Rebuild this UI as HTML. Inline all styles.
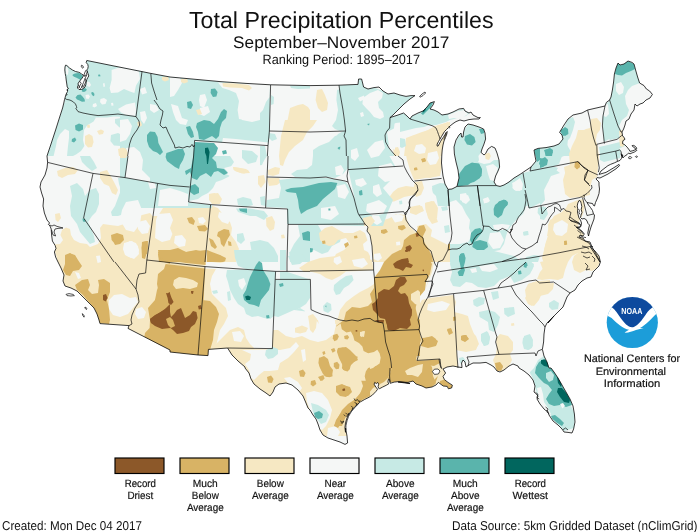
<!DOCTYPE html>
<html lang="en"><head><meta charset="utf-8"><title>Total Precipitation Percentiles</title>
<style>
html,body{margin:0;padding:0;background:#fff;}
body{width:700px;height:532px;overflow:hidden;position:relative;font-family:"Liberation Sans",sans-serif;}
svg{position:absolute;left:0;top:0;display:block;will-change:transform;}
text{text-rendering:geometricPrecision;}
text{font-family:"Liberation Sans",sans-serif;fill:#111;}
</style></head><body>
<svg width="700" height="532" viewBox="0 0 700 532">
<rect width="700" height="532" fill="#fff"/>

<defs><clipPath id="us"><path d="M100,323.6 99,320 97,314 94,308 90,304 87,301 83,297 77,291 71,288 65,286 63,281 64,275 61,268 58,262 58,262 55.6,257 54.4,252 56,248.4 55.2,245.6 52.4,241 51.6,235 51.2,229 50,226 48.4,224.4 49.6,223 47,220 44.4,213 43,206 43.6,199 41.6,193 40,187 41,182 45,175 47,168 47.6,162.4 47,156 47,156 51,144 55.6,130 60,116 62.6,108 63.8,103 64.5,99.5 65,98 65.5,96 66.2,94 67.5,91.5 67,89.5 68.5,88.5 67.2,87 66.8,84 66.2,80 65.8,76.5 65.2,73.5 64.8,70 65,67 65.5,65.2 66.8,65.5 69.5,68 72.5,70 75.5,71.5 78.5,72.2 80.5,73 82,74.5 83.5,75 83,76.8 81.8,78.5 80.5,80 79,82 77.8,84 78.5,85 77.5,86.5 77.5,88 79,89.5 81.2,89.5 83.5,88.5 85,87 85.8,84.5 86.2,82 86.8,79.5 87.8,77.5 88.8,76 88,73.5 87.2,71.5 86.8,70 87.8,68.5 88.2,66.5 87.8,64.5 86.2,62.5 86.8,60.5 114,66 142,71.6 150.8,73.4 170,77 194,79.2 220,81.6 246,83.4 270.6,84.8 310,85.6 339,85.2 358,84.4 358.6,79 361.6,79 363.6,87 368,89 374,87.6 379,87 383,91 388,94 394,93 400,95 406,96.4 411,95.6 415,95.6 410,99 404,104 398,110 393,115 390,117.6 398,115 403.6,113 403.6,113 407,116 410,119 412,116 418,113 423,111 427,107 430,103 434.4,101.6 433,105 430,109 434,110 438,112 442,115 448,114 453,112 459,109 463.6,108.4 465,111 469,113 471,112 473,115 478,117.6 480.4,117.6 479,119 474,119 469,119.6 464,121 460,120 456,121.6 453,123.6 450,126 448.5,127.5 446.5,129.5 444.5,131.5 443,134 441.5,136.5 440,139 438.5,141.5 437.2,144 437,145.8 438,146.2 439.2,144 440.5,141.5 442,139 443.5,137 445,134.5 446.2,132.5 447.2,131.5 446.8,134 445.5,137.5 444,141 443,145 442.2,150 441.8,155 441.5,163 442,168 443,176 445,184 448,189.4 452,189 457,186.4 459,178 458,170 456,162 454.4,154 454,147 456,140 459,135 461,133 461.6,137 463,137 463.6,132 465,127 468,124 473,125 479,127 483.6,129 485,133 485.6,139 484,144 482,149 481,152.4 484,155 485.6,153.6 488,149 491.6,146.4 495,148 497,153 499,160 499.6,167 498,171 495.6,176 494,182 496.4,185.6 500,186.4 504,185 509,182 514,178 520,174.4 525,171 531,167 536,161 535,156 534,150 538,148.4 546,147.6 554,146 559,144 563,139 562,135 559.6,132.4 561,130 564,125 568,119 573,115 582,113 587.6,110 605,106 606.4,102.4 609.6,100 611,97 612.4,90 613.6,82 614.4,74 616,68 618,63 620,65 624,64 628,61 632,62.4 634,64 635.6,70 637.6,77 639.6,83 644,85.6 646.4,89 649.6,91 652.4,94.4 650,98 646,100 643,103 640,104 637,106 635,104 634,110 631,114 629,119 626,121 625,125 623.6,129 622,132 622.4,135 622.1,135 624.3,137.9 625,139.3 622.9,140.7 622.5,143.6 624.6,144.6 627.1,147.1 629.3,150 630,151.4 632.9,150.7 635.7,149.6 636.8,148.2 635.4,146.4 633.6,145.4 632.1,145.6 633.2,147 634.9,148 635.9,149.4 636.8,150.4 634.3,152.1 632.1,152.9 630,153.9 628.6,153 627.1,154.6 624.3,156.4 622.9,157.9 622.1,155 621.4,154.6 621.8,157.1 621.4,158.6 620,160.4 617.5,161.4 614.3,162.9 610.7,164.3 607.9,165.7 605,167.9 601,171 599,174.4 606,172.4 614,167.6 619,164.4 619.6,165.6 616,168.8 608,174 600,178 597,177.6 596,179 599,182 599,185 599.5,189 599,193.5 597.5,198 595.5,202.5 594.5,206 593.5,205.5 592.5,203.5 589.5,203 587,202.5 588.5,205 590.5,207.5 592.5,210.5 593.5,214 594.5,215 594,219 592.5,223 591,227 589.5,232 588.5,236 587.8,233 588.5,229 589.5,225 588,223.5 587,221 585.5,219 584,218.5 582,219 580.5,217.5 581,215 582,212.5 581.2,209.5 581.8,206.5 581.2,203.5 580.5,201 579,200.5 577.8,203 577.2,206 577.8,209 577.5,212 578.2,215 579,218 580.5,220 581.5,223 581.2,225 580.5,227 576.5,227.5 579,229.5 581,231 582.5,233 584,234.5 583,236 580,235 579,237 582,238 583,238 585,241 590,242 592,247 595,252 598,258 600,262 590.4,247 595,251 599,256 600.4,262 599,266 596,269 593,272 591,277 587,278 582,281 578,285 575,290 570,293 567,297 565,302 563,307 560,310 556,314 552,318 548,323 554,316 550,320 547,323 545,327 544,334 543.6,342 542.4,349.4 544,356 547,362 549,368 551,368 554,372 558,378 562,385 566,392 570,399 573,406 574.4,414 575,422 573.6,429 572,433 568,432.4 564,432 562,429 558,425 553,421 549,415 547.6,411 545.6,410.4 544,409 540,404 537,399 538,396 536.4,394 534,392 535,386 533,380 529,375 524,371 519,368 518,366 513,364 509,366 504,370 500,372 497,371 494,367 491,365 486,362.4 480,363 473,363 469,365 466,367 465,362 463,360 461.6,363 462,367.6 458,367 453,366 447,367 443,369 445.6,373 443,376.4 444.4,379.6 448,382.4 452.4,385.2 451.6,388 448.4,388.8 447.2,386.4 443.2,386 440,383.6 438.4,382.4 436,385 432,387 426,388 422,386 416,384 413,381 408,382.4 400,382 398,382 410,383.6 404.5,382.4 398.8,381.6 394.2,382.1 390.2,383.3 389.6,379.6 388.5,379 387.9,381.9 388.7,383.9 386.2,385.3 382.7,387 379.3,388.8 378.7,388.2 378.1,386.5 378.7,384.2 377.6,382.4 376.4,383.6 374.7,382.4 374.1,384.2 375.8,387 377.6,389.3 375.8,391.6 372.4,395.1 369,397.3 364.4,399.6 360.4,401.9 356.9,404.8 353.5,408.2 350.6,411.7 348.3,415.1 346.6,419.1 345.5,423.1 344.9,427.7 345.5,432.3 345.6,428 347,436 347.6,443 345,444.4 340,442 334,440 328,438 323,435 320,430 318,424 316,419 313,415 310,410 308,408 306,403 303,396 298,390 292,385 286,383 279,384 275,387 273,392 270,396 266,393 260,389 254,384 251,379 249,373 245,368 245,367 238,361 232,355 227.6,348 208.4,349.4 208,355.6 198,355 170,352 170,350 128,328.4 129,325.6 100,323.6Z"/></clipPath><clipPath id="lc"><circle cx="632.3" cy="322.5" r="25.6"/></clipPath></defs>
<path d="M100,323.6 99,320 97,314 94,308 90,304 87,301 83,297 77,291 71,288 65,286 63,281 64,275 61,268 58,262 58,262 55.6,257 54.4,252 56,248.4 55.2,245.6 52.4,241 51.6,235 51.2,229 50,226 48.4,224.4 49.6,223 47,220 44.4,213 43,206 43.6,199 41.6,193 40,187 41,182 45,175 47,168 47.6,162.4 47,156 47,156 51,144 55.6,130 60,116 62.6,108 63.8,103 64.5,99.5 65,98 65.5,96 66.2,94 67.5,91.5 67,89.5 68.5,88.5 67.2,87 66.8,84 66.2,80 65.8,76.5 65.2,73.5 64.8,70 65,67 65.5,65.2 66.8,65.5 69.5,68 72.5,70 75.5,71.5 78.5,72.2 80.5,73 82,74.5 83.5,75 83,76.8 81.8,78.5 80.5,80 79,82 77.8,84 78.5,85 77.5,86.5 77.5,88 79,89.5 81.2,89.5 83.5,88.5 85,87 85.8,84.5 86.2,82 86.8,79.5 87.8,77.5 88.8,76 88,73.5 87.2,71.5 86.8,70 87.8,68.5 88.2,66.5 87.8,64.5 86.2,62.5 86.8,60.5 114,66 142,71.6 150.8,73.4 170,77 194,79.2 220,81.6 246,83.4 270.6,84.8 310,85.6 339,85.2 358,84.4 358.6,79 361.6,79 363.6,87 368,89 374,87.6 379,87 383,91 388,94 394,93 400,95 406,96.4 411,95.6 415,95.6 410,99 404,104 398,110 393,115 390,117.6 398,115 403.6,113 403.6,113 407,116 410,119 412,116 418,113 423,111 427,107 430,103 434.4,101.6 433,105 430,109 434,110 438,112 442,115 448,114 453,112 459,109 463.6,108.4 465,111 469,113 471,112 473,115 478,117.6 480.4,117.6 479,119 474,119 469,119.6 464,121 460,120 456,121.6 453,123.6 450,126 448.5,127.5 446.5,129.5 444.5,131.5 443,134 441.5,136.5 440,139 438.5,141.5 437.2,144 437,145.8 438,146.2 439.2,144 440.5,141.5 442,139 443.5,137 445,134.5 446.2,132.5 447.2,131.5 446.8,134 445.5,137.5 444,141 443,145 442.2,150 441.8,155 441.5,163 442,168 443,176 445,184 448,189.4 452,189 457,186.4 459,178 458,170 456,162 454.4,154 454,147 456,140 459,135 461,133 461.6,137 463,137 463.6,132 465,127 468,124 473,125 479,127 483.6,129 485,133 485.6,139 484,144 482,149 481,152.4 484,155 485.6,153.6 488,149 491.6,146.4 495,148 497,153 499,160 499.6,167 498,171 495.6,176 494,182 496.4,185.6 500,186.4 504,185 509,182 514,178 520,174.4 525,171 531,167 536,161 535,156 534,150 538,148.4 546,147.6 554,146 559,144 563,139 562,135 559.6,132.4 561,130 564,125 568,119 573,115 582,113 587.6,110 605,106 606.4,102.4 609.6,100 611,97 612.4,90 613.6,82 614.4,74 616,68 618,63 620,65 624,64 628,61 632,62.4 634,64 635.6,70 637.6,77 639.6,83 644,85.6 646.4,89 649.6,91 652.4,94.4 650,98 646,100 643,103 640,104 637,106 635,104 634,110 631,114 629,119 626,121 625,125 623.6,129 622,132 622.4,135 622.1,135 624.3,137.9 625,139.3 622.9,140.7 622.5,143.6 624.6,144.6 627.1,147.1 629.3,150 630,151.4 632.9,150.7 635.7,149.6 636.8,148.2 635.4,146.4 633.6,145.4 632.1,145.6 633.2,147 634.9,148 635.9,149.4 636.8,150.4 634.3,152.1 632.1,152.9 630,153.9 628.6,153 627.1,154.6 624.3,156.4 622.9,157.9 622.1,155 621.4,154.6 621.8,157.1 621.4,158.6 620,160.4 617.5,161.4 614.3,162.9 610.7,164.3 607.9,165.7 605,167.9 601,171 599,174.4 606,172.4 614,167.6 619,164.4 619.6,165.6 616,168.8 608,174 600,178 597,177.6 596,179 599,182 599,185 599.5,189 599,193.5 597.5,198 595.5,202.5 594.5,206 593.5,205.5 592.5,203.5 589.5,203 587,202.5 588.5,205 590.5,207.5 592.5,210.5 593.5,214 594.5,215 594,219 592.5,223 591,227 589.5,232 588.5,236 587.8,233 588.5,229 589.5,225 588,223.5 587,221 585.5,219 584,218.5 582,219 580.5,217.5 581,215 582,212.5 581.2,209.5 581.8,206.5 581.2,203.5 580.5,201 579,200.5 577.8,203 577.2,206 577.8,209 577.5,212 578.2,215 579,218 580.5,220 581.5,223 581.2,225 580.5,227 576.5,227.5 579,229.5 581,231 582.5,233 584,234.5 583,236 580,235 579,237 582,238 583,238 585,241 590,242 592,247 595,252 598,258 600,262 590.4,247 595,251 599,256 600.4,262 599,266 596,269 593,272 591,277 587,278 582,281 578,285 575,290 570,293 567,297 565,302 563,307 560,310 556,314 552,318 548,323 554,316 550,320 547,323 545,327 544,334 543.6,342 542.4,349.4 544,356 547,362 549,368 551,368 554,372 558,378 562,385 566,392 570,399 573,406 574.4,414 575,422 573.6,429 572,433 568,432.4 564,432 562,429 558,425 553,421 549,415 547.6,411 545.6,410.4 544,409 540,404 537,399 538,396 536.4,394 534,392 535,386 533,380 529,375 524,371 519,368 518,366 513,364 509,366 504,370 500,372 497,371 494,367 491,365 486,362.4 480,363 473,363 469,365 466,367 465,362 463,360 461.6,363 462,367.6 458,367 453,366 447,367 443,369 445.6,373 443,376.4 444.4,379.6 448,382.4 452.4,385.2 451.6,388 448.4,388.8 447.2,386.4 443.2,386 440,383.6 438.4,382.4 436,385 432,387 426,388 422,386 416,384 413,381 408,382.4 400,382 398,382 410,383.6 404.5,382.4 398.8,381.6 394.2,382.1 390.2,383.3 389.6,379.6 388.5,379 387.9,381.9 388.7,383.9 386.2,385.3 382.7,387 379.3,388.8 378.7,388.2 378.1,386.5 378.7,384.2 377.6,382.4 376.4,383.6 374.7,382.4 374.1,384.2 375.8,387 377.6,389.3 375.8,391.6 372.4,395.1 369,397.3 364.4,399.6 360.4,401.9 356.9,404.8 353.5,408.2 350.6,411.7 348.3,415.1 346.6,419.1 345.5,423.1 344.9,427.7 345.5,432.3 345.6,428 347,436 347.6,443 345,444.4 340,442 334,440 328,438 323,435 320,430 318,424 316,419 313,415 310,410 308,408 306,403 303,396 298,390 292,385 286,383 279,384 275,387 273,392 270,396 266,393 260,389 254,384 251,379 249,373 245,368 245,367 238,361 232,355 227.6,348 208.4,349.4 208,355.6 198,355 170,352 170,350 128,328.4 129,325.6 100,323.6Z" fill="#f5f7f6"/>
<g clip-path="url(#us)">
<path d="M64,62 88,59 170,76 170,156 148,156 145,144 142,136 139,130 139.6,124 136,117 124,117 114,116.4 107,117.6 96,117.6 90,116 83,114 77,111 73,104.4 69,102 64.4,102.4 66,93 65.2,80Z" fill="#c7eae5"/>
<path d="M64.4,102.4 69,102 73,104.4 77,111 83,114 90,116 96,117.6 93.6,121.6 87,125.6 84,130 83,140 84.4,146 81,151 76,154.4 73,156 67,156 68,146 69,138 69,131 65,129 60,134 57,140 56,146 53.6,156 46,156 55.6,130 62.6,108Z" fill="#c7eae5"/>
<path d="M115,119 124,117.6 131,119 133,126 130,130 124,130 119,127 115,123Z" fill="#c7eae5"/>
<path d="M111,135 118,133 124,136 125,142 121,146 114,145.6 110.4,141Z" fill="#c7eae5"/>
<path d="M170,76 190,78.4 218,81.6 270,85 269.6,130 268.4,145.6 230,142.4 194.6,140 193.6,156 170,156Z" fill="#c7eae5"/>
<path d="M290,108 298,105 303,104 308,107 310,110 310,122 287,122 288,118Z" fill="#f6e8c3"/>
<path d="M271,95 274,97 273.6,104 271,105Z" fill="#c7eae5"/>
<path d="M290,85.6 310,86 310,88.4 298,89 291,88Z" fill="#c7eae5"/>
<path d="M339,85.2 358,84.4 358.6,79 361.6,79 363.6,87 374,87.6 383,91 394,93 406,96.4 415,95.6 404,104 390,117.6 389.6,128 385,135 385.6,142 390,150 396,156 332,156 331,150 336,146 335,138 338,134 345,130 343,110 340,93Z" fill="#c7eae5"/>
<path d="M337,90 340,89 343,110 345,130 340,131 335,129 332,126 336,120 338,110 336.4,100Z" fill="#c7eae5"/>
<path d="M406,138 414,135 422,132 432,129 438,125 446,123 450,122 450,156 404,156 405,148Z" fill="#f6e8c3"/>
<path d="M393,148 398,147 400,152 399,156 394,156Z" fill="#f6e8c3"/>
<path d="M410,119 418,116 422,110 433.6,101.6 431,108 440,113 450,113.6 450,120 442,120 434,122 426,123 418,121Z" fill="#c7eae5"/>
<path d="M390,118 398,115 404,113.6 410,119.6 404,122 396,123 390,125Z" fill="#c7eae5"/>
<path d="M80,156 90,156 94,162 97,168 92,171 87,167 82,162Z" fill="#c7eae5"/>
<path d="M70,186 77,183 83,189 85,196 90,190 96,188 99,194 99,204 96,212 92,216 88,222 91,228 94,236 95,242 90,244 85,238 80,232 77,224 71,216 70,206 72,196Z" fill="#c7eae5"/>
<path d="M118,178 125,177.6 157.6,183.4 170,185.4 170,156 142,156 141,172 150,176 154,188 158,196 154,202 144,201 136,203 130,208 124,214 118,216 112,216 111,212 115,206 118,198 121,190 119,184Z" fill="#c7eae5"/>
<path d="M158,184 170,185.4 170,196 163,194 158,196Z" fill="#c7eae5"/>
<path d="M53,244.4 60,244 63,240 60.4,235 62,230 66,227.4 70,229 71,235 74,240 80,243 87,244 90,247 98,244 101,238 100,228 103,224 110,225 118,226 124,224 134,218 142,215 150,213 152.4,216 158,216 163,208 168,206 170,205 170,262 58,262Z" fill="#f6e8c3"/>
<path d="M170,156 230,156 234,162 230,168 226,174 230,176 222,180 216,182 213,188 208,193 202,196 198,199 189,201 189.6,187 170,185.4Z" fill="#c7eae5"/>
<path d="M244,156 258,156 264,160 262,165 254,166 247,162Z" fill="#c7eae5"/>
<path d="M237,199 243,197 251,199 253,205 246,207 238,205Z" fill="#c7eae5"/>
<path d="M260,197 265,196 265.6,206 261,205Z" fill="#c7eae5"/>
<path d="M288.4,225 310,225 310,262 290,262 289,250 292,242 290,236Z" fill="#c7eae5"/>
<path d="M236,208.4 250,208.4 264,211 268,216 264,220 256,216 250,216 244,214 238,212Z" fill="#c7eae5"/>
<path d="M237,234 243,233 245,240 241,244 237,241Z" fill="#c7eae5"/>
<path d="M250,242 260,240 268,242 274,248 278,256 278,262 256,262 252,254Z" fill="#c7eae5"/>
<path d="M238,254 243,255 242,262 237,262Z" fill="#c7eae5"/>
<path d="M170,205 178,206 188,203 198,205 210,205 218,208 224,216 230,222 232,228 231,235 236,242 239,249 236,256 236,262 170,262Z" fill="#f6e8c3"/>
<path d="M399,201 402,200.4 402.4,204 399.6,204.4Z" fill="#c7eae5"/>
<path d="M388,199 393,192 398,188 406,186 414,187 417,191 414,195 409,196 404,197 400,199 394,201.6 389,201.6Z" fill="#f6e8c3"/>
<path d="M413,162 422,156 440,156 441,168 438,176 430,178 422,177 416,173Z" fill="#f6e8c3"/>
<path d="M432,186 440,183 448,184 450,193 450,204 444,202 438,198 433,193Z" fill="#c7eae5"/>
<path d="M425,203 432,201 437,206 435,214 438,222 432,224 428,218 426,210Z" fill="#f6e8c3"/>
<path d="M414,207 422,206 424,211 418,213 413,211Z" fill="#f6e8c3"/>
<path d="M310,225 318,225 322,232 328,236 336,232 342,234 340,242 332,246 328,252 322,254 314,250 310,252Z" fill="#c7eae5"/>
<path d="M319,233 325,228 332,226 337,229 344,233 353,233 360,230 365,233 368,242 367,250 370,256 370,262 332,262 336,254 344,250 350,244 346,238 338,240 334,245 329,246 324,244 320,240Z" fill="#f6e8c3"/>
<path d="M362.4,220 370,216 376,216 384,220 390,218 396,214 405.6,215 409,226 419,235 423,246 433,262 373,262 372,246 370,235 367,231 368,227Z" fill="#f6e8c3"/>
<path d="M422,240 430,236 438,240 446,244 450,246 450,262 433,262 428,252 423,246Z" fill="#f6e8c3"/>
<path d="M450,189 457,187 477.4,185.6 496.4,185 505,184 523,173 526,192 527,204 523,214 517,219 512,225 508,230 506,236 504,244 500,250 490,252 480,256 472,262 450,262Z" fill="#c7eae5"/>
<path d="M523,173 530,171 554,166.4 558,168 555,173 550,175 548,182 544,186 543,194 544,201 538,204 529,208.4 527,204 526,192Z" fill="#c7eae5"/>
<path d="M530,171 538,156 562,156 559,164 554,166.4Z" fill="#c7eae5"/>
<path d="M564,167 578,161.6 588,170 584.4,180 590,186 590,195 580,197 570,198 565,194 564,186 566,178Z" fill="#f6e8c3"/>
<path d="M538,208 544,206 545,214 540,216 537.6,213Z" fill="#c7eae5"/>
<path d="M523,232 528,231 528.4,235 524,235.6Z" fill="#c7eae5"/>
<path d="M550,220 558,216 565,209 572,214 578,208 580,216 578,226 586,236 590,240 590,244.4 570,248.4 550,252.6 544,250 546,242 549,232 548,225Z" fill="#f6e8c3"/>
<path d="M526,257 534,255 540,256 538,262 524,262Z" fill="#c7eae5"/>
<path d="M546,242 550,236 548,230 580,230 584,238 589,242 590.4,248 595,251 599,256 600,262 596,260 588,260 582,258 578,253 572,256 568,262 565,270 563,278 558,280 550,279 542,280 537,279 540,272 545,266 542,258 544,250Z" fill="#f6e8c3"/>
<path d="M528,284 537,281 541,284 554,283 553,289 548,294 540,296 536,302 532,306 528,304 525,298 529,292Z" fill="#f6e8c3"/>
<path d="M549,303 554,300 559,303 558,309 552,310 549,307Z" fill="#c7eae5"/>
<path d="M520,258 528,260 534,264 532,270 526,276 520,278Z" fill="#c7eae5"/>
<path d="M523,232 528,231 528.4,235 523.6,235.6Z" fill="#c7eae5"/>
<path d="M578,253 589,250 599,256 600,262 597,268 592,271 586,270 580,273 574,270 572,262 574,256Z" fill="#f6e8c3"/>
<path d="M422,300 430,298 453,295 456,302 454,312 462,314 468,316 470,324 474,334 478,344 476,350 466,352 456,350 455,356 416,356 418,340 415,326 416,310Z" fill="#f6e8c3"/>
<path d="M422,250 436,250 434,262 432,272 429,280 425,290 430,274 432,264 428,256Z" fill="#f6e8c3"/>
<path d="M451,256 458,252 470,250 490,250 506,254 514,256 522,262 518,270 510,276 500,280 494,286 486,288 478,287 472,283 466,282 460,287 453,286 450,280 452,272 450,264Z" fill="#c7eae5"/>
<path d="M510,276 522,262 530,260 534,266 530,274 522,280 514,283Z" fill="#c7eae5"/>
<path d="M473,300 479,297 485,298 484,304 477,307 473.6,305Z" fill="#c7eae5"/>
<path d="M491,292 498,291 499,298 493,300Z" fill="#c7eae5"/>
<path d="M479,312 488,310 495,312 500,317 498,325 494,332 489,330 488,322 483,319 479.6,317Z" fill="#c7eae5"/>
<path d="M504,308 514,307 515,314 508,317 504.4,314Z" fill="#c7eae5"/>
<path d="M481,334 487,331 490,337 489,344 484,346 481,341Z" fill="#c7eae5"/>
<path d="M524,336 530,334 533,340 532,348 527,350 523.6,344Z" fill="#c7eae5"/>
<path d="M528,284 538,281 550,280 550,290 542,293 539,300 534,306 529,304 526,297 525,290Z" fill="#f6e8c3"/>
<path d="M540,262 550,260 550,270 543,270Z" fill="#f6e8c3"/>
<path d="M496,338 504,336 510,340 513,346 510,352 502,353 497,348Z" fill="#f6e8c3"/>
<path d="M230,348 272,349 273,330 370,330 370,436 230,436Z" fill="#f6e8c3"/>
<path d="M330,320 454,320 458,367 450,380 330,426Z" fill="#f6e8c3"/>
<path d="M528,369 538,354 546,356 575,414 574,428 564,431 548,412 537,394 533.6,380Z" fill="#c7eae5"/>
<path d="M496,338 500,334 508,336 513,342 513,350 510,354 512,360 509,366 502,372 497,370 495,366 493,360 496,354 497,346Z" fill="#f6e8c3"/>
<path d="M460,332 470,330 476,336 479,344 476,349 468,348 462,344 460,340Z" fill="#f6e8c3"/>
<path d="M482,334 488,332 490,338 488,345 484,346 481.6,340Z" fill="#c7eae5"/>
<path d="M523,338 528,335 532,338 533,346 529,350 524,349 522.4,343Z" fill="#c7eae5"/>
<path d="M120,100 260,100 260,145.6 194.4,140.6 188.4,202.4 212,205 212,208 120,208Z" fill="#c7eae5"/>
<path d="M285,120 317,120 313,126 307,132 303,140 295,146 289,152 285,160 283,166 280,165 279,156 280,146 281,136 283,128Z" fill="#f6e8c3"/>
<path d="M268,170 275,167 280,168 279,174 273,176 268,175Z" fill="#f6e8c3"/>
<path d="M267,178 279,178 281,182 277,185 269,186Z" fill="#f6e8c3"/>
<path d="M313,150 319,146 329,142 335,136 343,134 347,140 348,168 343,174 335,178 327,177 315,178 305,178 295,177 291,174 297,170 307,169 312,165 313,156Z" fill="#c7eae5"/>
<path d="M269,133 275,134 277,139 272,141 269,138Z" fill="#c7eae5"/>
<path d="M255,146 265,146 267,156 263,162 255,163Z" fill="#c7eae5"/>
<path d="M279,180 295,178 327,178 339,180 346,182 351,190 355,200 358,212 359,226 287,224 287,208 266,207 267,200 279,198 281,188Z" fill="#c7eae5"/>
<path d="M343,120 395,120 393,136 386,150 395,166 391,180 383,188 393,200 387,214 383,226 359,226 355,200 348,168 347,140Z" fill="#c7eae5"/>
<path d="M406,140 412,136 420,134 428,130 435,126 440,125 448,122 450,125.6 447,130 443,136 440,138 438,143 440,152 441,160 441.6,168 440,176 430,177 420,179 414,180 410,170 407,160 405,150Z" fill="#f6e8c3"/>
<path d="M415,182 422,181 424,188 421,195 416,197 413,190Z" fill="#f6e8c3"/>
<path d="M400,114 404,113 410,119 418,120 426,122 432,124 424,127 416,128 408,130 400,132Z" fill="#c7eae5"/>
<path d="M400,138 405,139 406,146 402,148 400,147Z" fill="#c7eae5"/>
<path d="M410,119 412,116 423,111 430,109 442,115 453,112 463.6,108.4 469,113 471,112 466,116 460,117 454,119 450,120 446,122 436,125 430,125 420,122Z" fill="#c7eae5"/>
<path d="M468,124 473,125 483.6,129 485.6,139 482,149 481,152.4 484,155 480,158 478,162 484,164 490,163 496,158 499,160 499.6,167 495.6,176 494,182 496.4,185.6 477.4,185.6 457,186.4 459,178 456,162 454,147 459,135 463.6,132Z" fill="#c7eae5"/>
<path d="M448,189.4 457,186.4 477.4,185.6 496.4,185.6 504,185 514,178 522.4,174 528,206 449,206Z" fill="#c7eae5"/>
<path d="M432,188 443,185 447.6,190 448,196 440,194 433,193Z" fill="#c7eae5"/>
<path d="M436,196 448,198 448.6,206 438,206Z" fill="#c7eae5"/>
<path d="M531,167 536,161 540,154 540,172 530,171.6Z" fill="#c7eae5"/>
<path d="M618,63 628,61 634,64 638,76 640,83 632,86 628,90 625,96 626,104 629,110 627,116 622,120 619,126 622,132 620,132 614,114 609.6,100 612.4,90 614,74Z" fill="#c7eae5"/>
<path d="M606,104 609.6,100.4 614,114 618,126 620,132 616,134 611,138 604,142 603,130 602.4,120 604,110Z" fill="#c7eae5"/>
<path d="M591,119 597,118 601,123 600,130 597,134 595,144 596,156 572,156 573,146 577,138 580,132 586,129 590,128Z" fill="#f6e8c3"/>
<path d="M568,119 573,117 575,122 573,130 570,138 565,143 560,144 562,138 560,132 564,127Z" fill="#c7eae5"/>
<path d="M535,149 546,147 556,146 560,144 566,143 570,150 571,156 534,156Z" fill="#c7eae5"/>
<path d="M599,147 608,145 620,142 624,140 625,146 616,150 608,152 600,153Z" fill="#c7eae5"/>
<path d="M578,130 592,130 597,144 599,156 598,168 597,177 592,180 590,188 588,194 583,198 578,196 570,190 564,188 563,180 566,170 570,164 569,154 572,146 576,138Z" fill="#f6e8c3"/>
<path d="M568,204 578,200 583,199 585,206 583,214 580,220 574,224 570,228 564,236 547,236 549,224 554,216 562,212 566,208Z" fill="#f6e8c3"/>
<path d="M540,148 552,146 560,142 562,136 560,130 568,130 568,138 567,150 564,156 559,158 550,160 540,163Z" fill="#c7eae5"/>
<path d="M540,169 548,168 556,170 560,173 551,176 548,182 544,190 545,200 540,206Z" fill="#c7eae5"/>
<path d="M600,150 616,147 621,150 620,158 612,160 604,162 600,160Z" fill="#c7eae5"/>
<path d="M605,130 620,130 619,138 610,140 606,136Z" fill="#c7eae5"/>
<path d="M540,208 546,207 548,214 544,220 540,219Z" fill="#c7eae5"/>
<path d="M50,260 170,260 170,346 50,346Z" fill="#f6e8c3"/>
<path d="M150,250 206,250 205,268.4 216,269 212,276 210,284 212,294 218,300 226,308 228,316 224,324 220,330 218,338 216,346 214,356 150,356Z" fill="#f6e8c3"/>
<path d="M214,346 222,338 230,330 238,327 244,330 246,338 250,344 254,348 254,356 210,356Z" fill="#f6e8c3"/>
<path d="M227,270 246,269.6 275.6,271.6 275.2,280 290,280 290,316 282,318 274,316 270,319 264,318 258,316 252,317 246,314 244,308 238,304 234,298 230,290 228,282 226,276Z" fill="#c7eae5"/>
<path d="M212,291 217,290 218,293 213.6,294Z" fill="#c7eae5"/>
<path d="M227,292 230,291 231,300 228,301Z" fill="#c7eae5"/>
<path d="M234,250 254,250 258,256 262,260 259,262 254,269 246,269 238,266 235,258Z" fill="#c7eae5"/>
<path d="M280,272 286,271.6 310,279.6 310,298 306,304 300,308 292,312 286,314 280,313Z" fill="#c7eae5"/>
<path d="M280,250 286,250 286,270 280,270Z" fill="#c7eae5"/>
<path d="M288,256 302,254 306,259 300,264 292,265Z" fill="#c7eae5"/>
<path d="M295,310 300,308 305,311 304,317 299,319 295,316Z" fill="#c7eae5"/>
<path d="M299,268 308,262 320,258 336,256 348,254 360,256 372,260 373.6,270 360,271 346,271.6 340,276 332,280 326,278 320,274 312,272 304,272Z" fill="#f6e8c3"/>
<path d="M280,346 292,343 300,338 308,340 314,336 310,326 312,318 318,320 320,330 328,328 334,324 338,318 340,310 346,302 354,296 360,292 368,288 374,284 375,278 420,274 420,356 280,356Z" fill="#f6e8c3"/>
<path d="M111.6,70 119,67.6 130,69 139,71.6 140,79 136,85.6 134.4,93 130,91.6 124,89 118,92.4 111,93 109.6,88 111.6,80Z" fill="#f5f7f6"/>
<path d="M118,109 126,104.4 135,102.4 136,110 135.4,116 126,115 121,112.4Z" fill="#f5f7f6"/>
<path d="M140,89 145,87 147,93 142,94.4Z" fill="#f5f7f6"/>
<path d="M218,82.4 270,84.6 269.6,97 266,102 263,110 256,117 248,120.4 239,119 237.6,110 239,101 236,93 229,90 222.4,88Z" fill="#f5f7f6"/>
<path d="M223,138 236,139 254,141 268.4,142.4 268,146 246,144.4 222,142.4Z" fill="#f5f7f6"/>
<path d="M170,77 180,78 182,83 178,90 174,96 170,97Z" fill="#f5f7f6"/>
<path d="M200,95 205,94 207,100 204,108 200,106 199,100Z" fill="#f5f7f6"/>
<path d="M363,98 370,93 378,90 383,93 382,98 378,102 379,108 383,112 384,117 380,119 374,117 370,112 366,108 362.4,104Z" fill="#f5f7f6"/>
<path d="M358,98 364,95.6 365,99 360,101.6Z" fill="#f5f7f6"/>
<path d="M360,113 363,112 364,116 361,117Z" fill="#f5f7f6"/>
<path d="M148,182 155,183 156,188 150,189Z" fill="#f5f7f6"/>
<path d="M124,244 130,241 136,243 139,250 137,256 131,258 125,255 123,249Z" fill="#f5f7f6"/>
<path d="M138,222 146,220 150,226 148,233 142,234 138,229Z" fill="#f5f7f6"/>
<path d="M288.4,225 298,225 300,236 294,244 290,252 288.4,252Z" fill="#f5f7f6"/>
<path d="M198,218 203,217 206,221 203,224 199,223Z" fill="#f5f7f6"/>
<path d="M175,236 182,235 186,240 185,246 179,247 174,243Z" fill="#f5f7f6"/>
<path d="M219,212 226,214 230,220 228,224 222,222 218,217Z" fill="#f5f7f6"/>
<path d="M363,244 368,240 370,246 368,252 364,250Z" fill="#f5f7f6"/>
<path d="M372,216 379,215.6 382,222 377,225 372.4,222Z" fill="#f5f7f6"/>
<path d="M391,216 398,214 404,216 402,221 395,222.4Z" fill="#f5f7f6"/>
<path d="M396,242 400,241.6 400.4,245 396.4,245.4Z" fill="#f5f7f6"/>
<path d="M374,254 380,253 382,258 378,261 373.6,259Z" fill="#f5f7f6"/>
<path d="M450,202 456,200 462,206 466,214 470,220 469,228 472,236 468,242 460,244 450,244Z" fill="#f5f7f6"/>
<path d="M462,197 468,195 470,200 466,204 462,202Z" fill="#f5f7f6"/>
<path d="M483,199 488,198 489,202 484,203.6Z" fill="#f5f7f6"/>
<path d="M512,183 520,180 522.4,186 520,191 514,190Z" fill="#f5f7f6"/>
<path d="M493,225 502,224 510,225 508,229 500,230.4 494,229Z" fill="#f5f7f6"/>
<path d="M490,233 500,232 504,240 500,248 493,249 488,242Z" fill="#f5f7f6"/>
<path d="M554,224 562,220 568,224 567,232 562,236 556,235 553,230Z" fill="#f5f7f6"/>
<path d="M428,304 442,301 450,304 446,310 434,312 427,310Z" fill="#f5f7f6"/>
<path d="M470,269 476,268 477,272 472,273Z" fill="#f5f7f6"/>
<path d="M479,266 494,264 498,269 490,272 482,271Z" fill="#f5f7f6"/>
<path d="M242,350 272,349.6 280,350 290,348 296,342 299,346 294,352 288,358 280,363 278,370 270,371 264,371 259,375 254,380 251,378 249,370 245,364 250,360 251,354Z" fill="#f5f7f6"/>
<path d="M284,378 290,377 298,382 302,388 300,391 294,387 288,383Z" fill="#f5f7f6"/>
<path d="M306,393 314,391 322,393 328,400 332,410 330,418 326,426 322,430 318,428 314,420 310,410 307,402Z" fill="#f5f7f6"/>
<path d="M301,350 305,349 306,360 303,362Z" fill="#f5f7f6"/>
<path d="M328,428 336,426 340,432 338,436 327,436Z" fill="#f5f7f6"/>
<path d="M232,332 240,331 244,336 241,342 234,341Z" fill="#f5f7f6"/>
<path d="M537,388 541,387 543,394 544,402 548,408 551,414 549,416 544,410 539,400Z" fill="#f5f7f6"/>
<path d="M536,349 543,349 544,356 538,360 534,368 529,373 520,366 526,360Z" fill="#f5f7f6"/>
<path d="M120,120 128,119 132,126 130,134 126,140 120,142Z" fill="#f5f7f6"/>
<path d="M140,112 145,111 147,118 144,124 141,120Z" fill="#f5f7f6"/>
<path d="M150,104 156,105 159,110 154,113 150,110Z" fill="#f5f7f6"/>
<path d="M171,104 178,106 180,112 182,118 188,120 186,125 180,124 176,120 173,112Z" fill="#f5f7f6"/>
<path d="M126,148 134,147 140,152 143,160 142,170 150,178 150,182 125,177.6 128,160Z" fill="#f5f7f6"/>
<path d="M238,110 248,106 260,104 260,120 252,122 242,120Z" fill="#f5f7f6"/>
<path d="M220,143 260,146 260,196 240,194 232,188 228,180 230,174 224,168 232,166 238,160 234,152 226,150Z" fill="#f5f7f6"/>
<path d="M160,190 170,188 180,191 188,194 188,206 158,206Z" fill="#f5f7f6"/>
<path d="M200,108 208,106 210,112 204,116 199,114Z" fill="#f5f7f6"/>
<path d="M335,167 341,165 344,170 342,175 336,175Z" fill="#f5f7f6"/>
<path d="M337,186 345,184 349,192 345,199 338,197Z" fill="#f5f7f6"/>
<path d="M321,208 335,206 339,214 331,220 321,218Z" fill="#f5f7f6"/>
<path d="M351,150 357,148 359,156 355,161 351,158Z" fill="#f5f7f6"/>
<path d="M367,150 375,142 383,140 385,148 379,156 371,158Z" fill="#f5f7f6"/>
<path d="M355,180 363,178 367,184 361,187 356,185Z" fill="#f5f7f6"/>
<path d="M373,186 379,184 382,194 377,197 373,193Z" fill="#f5f7f6"/>
<path d="M387,132 395,128 395,150 389,146Z" fill="#f5f7f6"/>
<path d="M367,204 379,200 387,206 383,214 373,216 366,211Z" fill="#f5f7f6"/>
<path d="M379,166 391,163 395,168 395,180 385,182 378,176Z" fill="#f5f7f6"/>
<path d="M416,145 422,144 426,148 425,153 419,154 414,151Z" fill="#f5f7f6"/>
<path d="M428,153 437,151 439,158 436,164 430,165 427,160Z" fill="#f5f7f6"/>
<path d="M448,115 458,111 464,110 468,114 462,118 454,118 449,119Z" fill="#f5f7f6"/>
<path d="M481,152.4 488,149 491.6,146.4 495,148 497,153 498.4,160 494,160 490,162 484,163 479,160 478.4,156Z" fill="#f5f7f6"/>
<path d="M486,166 493,164 498,168 496,175 494.4,181 490,180 488,174Z" fill="#f5f7f6"/>
<path d="M460,194 466,193 468,198 464,202 460,200Z" fill="#f5f7f6"/>
<path d="M483,199 488,197 490,201 486,203Z" fill="#f5f7f6"/>
<path d="M513,183 520,178 523,184 522,190 516,191 512.4,188Z" fill="#f5f7f6"/>
<path d="M616,84 621,82 624,87 623,93 619,95 616,91Z" fill="#f5f7f6"/>
<path d="M605,105 608,104 609,114 606,117 603.6,116 604,110Z" fill="#f5f7f6"/>
<path d="M124,243 132,241 138,246 139,254 134,259 127,256 123.6,250Z" fill="#f5f7f6"/>
<path d="M109,300 114,295 122,294 130,298 136,297 138,302 133,308 128,314 120,317 113,315 109,309Z" fill="#f5f7f6"/>
<path d="M136,309 142,307 146,312 144,318 138,319 135,314Z" fill="#f5f7f6"/>
<path d="M96,256 100,255.6 101,262 97.6,263Z" fill="#f5f7f6"/>
<path d="M75,272 79,273 81,278 78,279Z" fill="#f5f7f6"/>
<path d="M238,280 244,278 246,284 242,290 239,286Z" fill="#f5f7f6"/>
<path d="M334,258 340,256 342,262 337,265 333.6,262Z" fill="#f5f7f6"/>
<path d="M352,260 364,258 368,264 362,268 354,266Z" fill="#f5f7f6"/>
<path d="M294,326 302,324 306,329 304,334 297,334Z" fill="#f5f7f6"/>
<path d="M86.5,81.5 89.5,82 91,85 89.5,87 87.2,86Z" fill="#f5f7f6"/>
<path d="M85.5,95 88.5,94.5 90,96.5 88.5,99 86,98.5Z" fill="#f5f7f6"/>
<path d="M100.5,99 104,98 107,100 105.5,104 102,104.5 100,102Z" fill="#f5f7f6"/>
<path d="M93,104 96,103 97,106 94.5,107.5 92.5,106.5Z" fill="#f5f7f6"/>
<path d="M103,83.5 104.5,83 105,86.5 103.5,87Z" fill="#f5f7f6"/>
<path d="M111,103 113,102.8 113.5,105.5 111.5,105.8Z" fill="#f5f7f6"/>
<path d="M65.5,66 67.5,67.5 68.5,71 67.8,75 66.2,74 65.5,70Z" fill="#f5f7f6"/>
<path d="M85,136 89,134 92.4,136 93.6,142 92,147 88,147.6 85,144Z" fill="#f6e8c3"/>
<path d="M97,131 101,129.6 104,131 103,134 99,134.8Z" fill="#f6e8c3"/>
<path d="M87,125 89.6,124.4 90,127.6 87.6,128Z" fill="#f6e8c3"/>
<path d="M118,149 123,147.6 127,150 127.6,156 119,156Z" fill="#f6e8c3"/>
<path d="M137.6,122 140.4,121.6 142,125 139.6,127 137.6,125.6Z" fill="#f6e8c3"/>
<path d="M162,77 168,76.4 169,80 165,81.6 162,80Z" fill="#f6e8c3"/>
<path d="M181,79 187,78.4 188,82 184,83.6 181,82Z" fill="#f6e8c3"/>
<path d="M222.4,83 236,83.6 249,85 252,88 249,90.4 242,88 230,87.6 223,86.4Z" fill="#f6e8c3"/>
<path d="M317,90 322,89 325,95 328,103 327,110 322,112 318,108 315.6,100Z" fill="#f6e8c3"/>
<path d="M57,171 65,168 73,167 78,170 75,174 68,175 62,178 58,176Z" fill="#f6e8c3"/>
<path d="M100,172 107,170 110,175 114,182 118,190 116,195 112,193 109,186 104,184 100,178Z" fill="#f6e8c3"/>
<path d="M55,214 59.6,213 61,218 58,222 55.6,220Z" fill="#f6e8c3"/>
<path d="M233,167 240,168 246,169 249,172 244,173.6 238,172 233.6,170Z" fill="#f6e8c3"/>
<path d="M209,194 215,193 219,198 220,203 213,204 209,200Z" fill="#f6e8c3"/>
<path d="M258,176 264,175 265.6,182 261,188 258,184Z" fill="#f6e8c3"/>
<path d="M266,218 272,216 275,222 274,229 270,231 266.4,226Z" fill="#f6e8c3"/>
<path d="M281,235 284,234.4 285,238 281.6,238.4Z" fill="#f6e8c3"/>
<path d="M511,323.6 514,323 514.4,325.6 511.4,326Z" fill="#f6e8c3"/>
<path d="M266,350 273,347 278,349 278,354 273,358 268,359 265,355Z" fill="#c7eae5"/>
<path d="M311,403 318,405 326,410 329,415 326,422 321,424 317,419 313,412Z" fill="#c7eae5"/>
<path d="M459,358 463,357 466,361 464,365 460,363Z" fill="#c7eae5"/>
<path d="M242,150 252,151 258,156 256,162 248,164 242,158Z" fill="#c7eae5"/>
<path d="M196,110 200,109 202,114 198,115Z" fill="#f6e8c3"/>
<path d="M120,149 125,148 128,153 126,158 120,158Z" fill="#f6e8c3"/>
<path d="M233,167 240,168 248,170 250,173 242,173.6 235,171Z" fill="#f6e8c3"/>
<path d="M210,194 218,193 222,199 220,204 212,204 209,199Z" fill="#f6e8c3"/>
<path d="M137.6,122 141,121.6 141.6,126 138.4,126.4Z" fill="#f6e8c3"/>
<path d="M425,203 434,201 438,208 437,218 432,222 428,216 425.6,210Z" fill="#f6e8c3"/>
<path d="M410,207 420,205 423,211 416,215 410,213Z" fill="#f6e8c3"/>
<path d="M417,226 426,224 432,230 430,240 423,242 418,236Z" fill="#f6e8c3"/>
<path d="M441,207 447,206 448,210 442.4,211Z" fill="#c7eae5"/>
<path d="M444,226 449,225 450,232 445,233Z" fill="#c7eae5"/>
<path d="M158,214 170,213 173,220 170,228 172.4,234 170,240 162,242 155,238 156,220Z" fill="#f5f7f6"/>
<path d="M126,202 138,200 142,210 140,224 134,232 126,230 120,220 122,210Z" fill="#f5f7f6"/>
<path d="M363,218 371,216 375,221 371,226 364,226Z" fill="#f6e8c3"/>
<path d="M485,154 489,152.4 491,156 489,160 485.6,159Z" fill="#f6e8c3"/>
<path d="M619,131 622.4,130 624,138 625,144 622,145 620,138Z" fill="#f6e8c3"/>
<path d="M619,138 624,136 625.6,142 623,147 620,146Z" fill="#f6e8c3"/>
<path d="M210,255 218,253 227,256 228,261 220,263 212,262Z" fill="#f6e8c3"/>
<path d="M334,285 340,280 346,276 352,275 353.6,280 349,285 344,288 340,294 336,295 333.6,290Z" fill="#c7eae5"/>
<path d="M323,306 327,302 331,304 331.6,310 328,313 323.6,311Z" fill="#c7eae5"/>
<path d="M75,125.6 79,123.6 83,125 83,129.6 79,131.6 75.6,130Z" fill="#5ab4ac"/>
<path d="M72,139 75,137.6 76.4,140 74,142.4 71.6,141.6Z" fill="#5ab4ac"/>
<path d="M211,89 215,88.4 217.6,92 216.4,96.4 213,97 210.6,93Z" fill="#5ab4ac"/>
<path d="M421,113.6 425,108 430,103 433.6,101.6 431,107 427,111 423,115Z" fill="#5ab4ac"/>
<path d="M367,124 369.6,123.6 369,125.6Z" fill="#5ab4ac"/>
<path d="M338,147.6 340.4,146.4 340,149Z" fill="#5ab4ac"/>
<path d="M111,235 117,233 123,235 124,240 120,244 115,244 111.6,240Z" fill="#d8b365"/>
<path d="M65,255 70,253 75,256 77,262 66,262Z" fill="#d8b365"/>
<path d="M142.4,242 147,241 148,246 147,254 143,254 141.6,248Z" fill="#d8b365"/>
<path d="M158,254 166,252 170,253 170,262 159,262Z" fill="#d8b365"/>
<path d="M82.4,218.4 85,219 85.6,222 83,221.6Z" fill="#5ab4ac"/>
<path d="M302,233 308,231 310,232 310,241 303,240Z" fill="#5ab4ac"/>
<path d="M239,208.4 247,208.4 247,213 243,212 240,211Z" fill="#5ab4ac"/>
<path d="M187,218 192,217 195,221 193.6,225 189,223Z" fill="#d8b365"/>
<path d="M197,226 205,225 208,229 205,231.6 199,231Z" fill="#d8b365"/>
<path d="M218,232 224,229 229,230 230,235 227,240 224,247 221,244 220,238 217,236Z" fill="#d8b365"/>
<path d="M209,238 213,240 217,247 215,249 211,246Z" fill="#d8b365"/>
<path d="M228,241 231,242 231.6,246 228.4,245.6Z" fill="#d8b365"/>
<path d="M170,250 178,248 186,252 196,250 205,252 205,262 170,262Z" fill="#d8b365"/>
<path d="M207,250 212,252 220,255 224,262 207,262Z" fill="#d8b365"/>
<path d="M328.4,208.4 330.4,208.4 330.4,210.4 328.4,210.4Z" fill="#5ab4ac"/>
<path d="M359,191.6 361.6,190.6 362,194 359.6,195Z" fill="#5ab4ac"/>
<path d="M422,159 425,158.4 425.6,161.6 422.4,162Z" fill="#d8b365"/>
<path d="M414,168 416.4,167.6 416.8,169.6 414.4,170Z" fill="#d8b365"/>
<path d="M322,241 325,240.4 325.6,243.6 322.6,244Z" fill="#d8b365"/>
<path d="M344,244 348,242 349,245 345.6,248Z" fill="#d8b365"/>
<path d="M354,236 357,235.6 357.6,238 354.4,238.4Z" fill="#d8b365"/>
<path d="M310,248 313,248.4 312.4,252 310,252.4Z" fill="#5ab4ac"/>
<path d="M381,230 386,229 388,232 384,234 381,233Z" fill="#d8b365"/>
<path d="M398,226 404,225 406,228 402,230.4 398.4,229Z" fill="#d8b365"/>
<path d="M404,240 410,235 416,233 419,226 424,225 426,230 423,236 424,242 428,248 432,256 433,262 390,262 394,256 400,252 403,246Z" fill="#d8b365"/>
<path d="M448,244 450,243.6 450,250 448.4,250Z" fill="#d8b365"/>
<path d="M459,174 465,166 472,162.4 479,164 482,171 480,178 474,182 466,184 460,186 457,186 458,180Z" fill="#5ab4ac"/>
<path d="M495,205 500,201 506,200 508,204 504,209 502,215 498,218 494,215 493.6,209Z" fill="#5ab4ac"/>
<path d="M471,233 475,229 480,228 483,231 480,235 476,240 472,244 470,240Z" fill="#5ab4ac"/>
<path d="M473,242 480,240 487,242 488,247 484,250 477,250 472.4,247Z" fill="#5ab4ac"/>
<path d="M460,254 464,253 465.6,258 465,262 459.6,262Z" fill="#5ab4ac"/>
<path d="M540,160 545,157 548,160 547,165 542,167 539,164Z" fill="#5ab4ac"/>
<path d="M575,163 579,162.4 580,167 576.4,169Z" fill="#d8b365"/>
<path d="M564,241 566.6,240.4 567.2,244.4 564.4,245Z" fill="#d8b365"/>
<path d="M578,209 581,208.4 581,212 578.4,212.4Z" fill="#d8b365"/>
<path d="M524,263 527,264 526.4,268 523.6,267Z" fill="#5ab4ac"/>
<path d="M564.4,241 566.4,241 566.4,245 564.4,245Z" fill="#d8b365"/>
<path d="M410,250 422,250 428,256 432,264 430,274 426,282 425,290 420,296 416,306 414,320 416,330 418,340 416,356 410,356Z" fill="#d8b365"/>
<path d="M422,338 432,337 438,341 436,346 428,348 421,346Z" fill="#d8b365"/>
<path d="M447,330 451,329 453,333 449,335Z" fill="#d8b365"/>
<path d="M461,336 466,335 469,339 465,342 461,340Z" fill="#d8b365"/>
<path d="M453,317 455.6,316.4 455.6,320.4 453.2,321Z" fill="#d8b365"/>
<path d="M459,256 462,253 464.4,255 465,262 463.6,267 465,270 463,276 459,276 457.6,272 461,269 460,264 459,260Z" fill="#5ab4ac"/>
<path d="M524,263 527,262.4 527.6,266 524.6,266.4Z" fill="#5ab4ac"/>
<path d="M518,271 521,270.4 521.6,274 518.4,274.4Z" fill="#5ab4ac"/>
<path d="M314,413 319,411 323,414 322,418 318,419 315,417Z" fill="#5ab4ac"/>
<path d="M267,377 271,375.6 273.6,379 272,383 268,382.4Z" fill="#d8b365"/>
<path d="M299,371 303,369.6 305.6,373 304,377 300,376.4Z" fill="#d8b365"/>
<path d="M311,381 315,380 316.4,384 313,386.4 310.6,384.4Z" fill="#d8b365"/>
<path d="M318,377 323,375 324,378 320,380Z" fill="#d8b365"/>
<path d="M319,358 324,356 327,351 332,348 335,350 333,356 330,360 331,366 333,370 330,375 325,374 321,370 319,364Z" fill="#d8b365"/>
<path d="M334,334 338,333 339,338 335,340Z" fill="#d8b365"/>
<path d="M322,352 325,351.6 325,354.4 322.4,354.4Z" fill="#d8b365"/>
<path d="M334,363 338,362 339.6,367 336,369Z" fill="#d8b365"/>
<path d="M338,350 346,348 352,352 354,358 350,365 346,369 342,366 343,360 339,356Z" fill="#d8b365"/>
<path d="M342,330 370,330 370,386 366,390 363,382 364,370 360,360 354,350 350,342 345,338Z" fill="#d8b365"/>
<path d="M338,388 343,385 350,387 352,392 348,396 342,395 338.4,392Z" fill="#d8b365"/>
<path d="M370,366 368,376 364,388 358,396 352,404 346,410 340,414 336,420 334,426 338,428 342,422 348,414 354,407 362,400 370,396Z" fill="#d8b365"/>
<path d="M384,331 419,329.6 421,340 418,350 416,360 418,361 430,360 439,359.6 440,363 434,366 426,365 424,372 424,380 430,384 434,380 438,376 435,384 428,388 422,387 416,385 410,384 400,383 390,382 388,378 392,368 391,358 387,348 385,339Z" fill="#d8b365"/>
<path d="M336,326 344,320 384,320 383,330 385,340 387,348 382,350 375,352 370,350 366,344 360,342 356,338 350,336 344,338 338,336Z" fill="#d8b365"/>
<path d="M338,350 346,348 352,352 356,357 354,362 348,364 342,368 338,365 335,358Z" fill="#d8b365"/>
<path d="M362,374 367,370 373,368 379,363 380,356 387,350 391,358 392,368 388,378 384,382 378,385 373,388 368,394 362,399 356,404 350,410 346,416 342,426 334,426 338,418 342,410 348,404 354,400 360,394 363,386 361,380Z" fill="#d8b365"/>
<path d="M336,386 342,384 348,387 350,393 346,397 340,396 336,392Z" fill="#d8b365"/>
<path d="M332,339 336,338 337,342 333,343Z" fill="#d8b365"/>
<path d="M330,366 334,365 336,370 332,374 330,373Z" fill="#d8b365"/>
<path d="M425,338 432,336 436,339 437,344 432,346 426,345Z" fill="#d8b365"/>
<path d="M447,329 451,328 452.4,332 449,333.6Z" fill="#d8b365"/>
<path d="M461,336 466,335 468,339 463.6,341Z" fill="#d8b365"/>
<path d="M539,362 544,359 550,363 558,377 563,387 571,400 572,405 566,407 560,405 554,406 549,404 546,399 549,394 552,390 548,385 544,383 539,378 535,373 536,367Z" fill="#5ab4ac"/>
<path d="M551,416 555,415 560,419 564,423 562,426 557,423 552.4,419Z" fill="#5ab4ac"/>
<path d="M496,364 500,363 503,367 501,371 497,370Z" fill="#d8b365"/>
<path d="M461,336 466,335 468.4,339 465,341.6 461.6,340Z" fill="#d8b365"/>
<path d="M147,135 150,131.6 155,132 157.6,137 158.4,143 161,148 163,152 160,155 157,152.4 153,151 149,147 147,141Z" fill="#5ab4ac"/>
<path d="M166.4,153 171,151.6 178,149 183,149 185,154 183,160 180,165 179,169 175,167 171,164 167,161 165.6,157Z" fill="#5ab4ac"/>
<path d="M186,127 190,126 193,132 194,137 191,138 188,134Z" fill="#5ab4ac"/>
<path d="M187,102 191,101 193,105 191,109 187.6,108Z" fill="#5ab4ac"/>
<path d="M197,123 204,120 210,121 214,124 218,119 221,112 224,109 227,111 226,118 222,122 220,128 219,136 216,139 212,136 208,138 204,140 199,139 198,132 196,127Z" fill="#5ab4ac"/>
<path d="M195,142 214,143 218,148 216,154 212,158 216,162 217,168 224,169 228,173 224,175 218,171 214,172 211,177 206,173 200,176 197,180 192,178 190,172 186,175 185,171 191,168 193,158 194,148Z" fill="#5ab4ac"/>
<path d="M190,186 195,184 199,188 199,193 194,195 190,192Z" fill="#5ab4ac"/>
<path d="M222,151 226,150 227,153.6 223,154.4Z" fill="#5ab4ac"/>
<path d="M285,190 291,188 303,187 319,183 331,182 337.4,183 335,189 329,194 323,199 317,206 307,210 301,214 299,208 298,200 296,193 287,192Z" fill="#5ab4ac"/>
<path d="M359,191 362,190 362.6,195 359.8,195.6Z" fill="#5ab4ac"/>
<path d="M337.4,148 340,147 339.4,150Z" fill="#5ab4ac"/>
<path d="M422,363 428,362 432,367 433,376 436,383 432,387 426,388 422,386 420,378 421,370Z" fill="#d8b365"/>
<path d="M440,381 444.4,379.6 448,382.4 452.4,385.2 451.6,388 448.4,388.8 447.2,386.4 443.2,386 440,383.6Z" fill="#d8b365"/>
<path d="M495,363 500,362 503,366 501,370 497,371 495.6,367Z" fill="#d8b365"/>
<path d="M421,159 425,158 426,161 422.4,162.4Z" fill="#d8b365"/>
<path d="M414,168 417,167.6 417.6,170 414.4,170.4Z" fill="#d8b365"/>
<path d="M465,136 470,134 474.4,137 475.6,142 472,145.6 467,144.4 464.4,140Z" fill="#5ab4ac"/>
<path d="M479,129 483.6,129 484.4,133 481,134Z" fill="#5ab4ac"/>
<path d="M466,167 472,163 479,163.6 482,169 481.6,176 477,179 472,182 468,185 458,186.4 460,180 463,173Z" fill="#5ab4ac"/>
<path d="M498,202 504,199.6 508,202 507,206 499,206Z" fill="#5ab4ac"/>
<path d="M534,150 540,148 540,160 537,162Z" fill="#5ab4ac"/>
<path d="M617,64 619,62.4 621,65.6 627.6,61 634,64 635,69 631,71 626,73 622,75.6 618,75 615,74 615.6,69Z" fill="#5ab4ac"/>
<path d="M561,130 565,127 568,129 568.4,134 565,136 562,134Z" fill="#5ab4ac"/>
<path d="M545,150 550,148 553,150 552,156 545.6,156Z" fill="#5ab4ac"/>
<path d="M575,162 579,161.6 580,167 577,169.6 574.4,167Z" fill="#d8b365"/>
<path d="M579,209 581.6,208 582,213 579.6,213.6Z" fill="#d8b365"/>
<path d="M544,150 550,148.4 553,152 551,155.6 546,156Z" fill="#5ab4ac"/>
<path d="M540,158 545,159 547,164 543,167 540,168Z" fill="#5ab4ac"/>
<path d="M560,130 567,130 567,134 563,136Z" fill="#5ab4ac"/>
<path d="M65,256 70,253.6 75,255 78,260 82,266 79,270 73,271 70,276 66,275 63,270 65,264Z" fill="#d8b365"/>
<path d="M75,285 82,280 88,279 90,285 88,290 92,294 98,293 99,285 98,280 104,279 110,283 110,292 107,300 109,309 110,320 109,324 99,323 98,318 94,308 87,300 83,295 77,290Z" fill="#d8b365"/>
<path d="M113,240 121,240 120,244 115,245Z" fill="#d8b365"/>
<path d="M142,242 148,241 147,252 145,259 142,258 141.6,250Z" fill="#d8b365"/>
<path d="M158,252 170,251 170,264 164,262 159,258Z" fill="#d8b365"/>
<path d="M148,308 155,300 157,290 161,280 168,275 170,274 170,346 158,346 144,339 145,333 149.6,328 150,320Z" fill="#d8b365"/>
<path d="M158,274 164,269 165.6,264 205,268.4 202.4,330 199,356 150,356 150,316 154,310 155,300 159,294 157,284Z" fill="#d8b365"/>
<path d="M158,250 176,250 186,252 198,251 206,250 205.6,265 186,263 174,261 164,260 159,256Z" fill="#d8b365"/>
<path d="M202.4,300 210,301 216,307 219,314 217,322 214,330 213,340 210,350 208,356 199,356 201,330Z" fill="#d8b365"/>
<path d="M252,273 256,265 259,261 262,263 263,270 268,278 270.4,284 269,290 265,295 261,300 259,307 254,305 249,304 244,300 243,295 246,290 248,283 250,277Z" fill="#5ab4ac"/>
<path d="M266,315.6 269,315 269.6,318 266.6,318.4Z" fill="#5ab4ac"/>
<path d="M279,284 283,283 283.6,286 280,287Z" fill="#5ab4ac"/>
<path d="M214,256 220,255 226,258 225,261.6 218,261Z" fill="#d8b365"/>
<path d="M325,306 326.4,305.6 326.4,307.6Z" fill="#5ab4ac"/>
<path d="M374,278 380,270 384,262 392,254 400,250 420,250 420,274 416,290 413,302 416,310 418,318 420,320 420,356 364,356 362,346 356,344 350,340 346,334 342,328 344,320 346,312 352,307 360,308 368,306 372,302 370,294 374,288Z" fill="#d8b365"/>
<path d="M333,335 337,334 339,338 336,341 333,339Z" fill="#d8b365"/>
<path d="M344,336 348,335 349,339 345,340Z" fill="#d8b365"/>
<path d="M322,351 326,350 326.4,354 322.4,354.4Z" fill="#d8b365"/>
<path d="M336,348 344,346 350,350 348,356 338,356Z" fill="#d8b365"/>
<path d="M72.8,74.5 75,73.5 78.5,73 81.2,74 82.8,76 82,78.5 80.5,80 79,79 76.5,77.8 74,76.8 72.5,75.5Z" fill="#5ab4ac"/>
<path d="M82,89 85,88 86.8,89.5 86,91 84,92 81.8,91.5Z" fill="#5ab4ac"/>
<path d="M75.5,97.5 77.5,95 80.5,94.5 82.5,96.5 84.5,99 85,101.5 82,101.8 79.5,100.5 77,99.5Z" fill="#5ab4ac"/>
<path d="M91.2,92.5 93,92 94.5,94 94,96.2 92.5,95.5 91.5,94Z" fill="#5ab4ac"/>
<path d="M98,74.8 100,74.5 100.5,76.2 98.5,76.5Z" fill="#5ab4ac"/>
<path d="M422,110.4 424.4,108 426,109.4 423.6,112.4Z" fill="#01665e"/>
<path d="M405.6,247 410,245 412,248 409.6,251.6 406,251Z" fill="#8c5829"/>
<path d="M415.6,233.6 418,233 419,236 416.4,237Z" fill="#8c5829"/>
<path d="M402,259 408,258 409,262 401,262Z" fill="#8c5829"/>
<path d="M410,308 412,310 411.6,316 410,317Z" fill="#8c5829"/>
<path d="M422,270 424,269.6 424,271.6Z" fill="#8c5829"/>
<path d="M343,389 345,388.6 345.2,390.6 343.2,390.8Z" fill="#8c5829"/>
<path d="M405,371 410,368 418,365 423,364 422,372 418,377 412,375 407,375Z" fill="#f6e8c3"/>
<path d="M360,332 365,331 364,337 360,336Z" fill="#f6e8c3"/>
<path d="M342.4,389 344.4,388.6 344.6,390.6 342.6,391Z" fill="#8c5829"/>
<path d="M386,320 410,320 411,325 407,329 400,328 394,331 388,330Z" fill="#8c5829"/>
<path d="M375,320 384,320 383.6,323 378,322.4Z" fill="#8c5829"/>
<path d="M546,373 551,371 554,375 553,380 549,382 546,378Z" fill="#c7eae5"/>
<path d="M541,360 545,359.6 549,364 548,367 544,366 541,363.6Z" fill="#01665e"/>
<path d="M557,377 559,376.4 562,383 561,387 558,383Z" fill="#01665e"/>
<path d="M558,388 562,388 567,394 570,400 569,403 564,402 560,397 557,392Z" fill="#01665e"/>
<path d="M560,404 563,403 565,406 562.4,408.4Z" fill="#f5f7f6"/>
<path d="M205,148 208,147.6 209.6,152 209,157 208,164 207,164 206.4,156 205,152.4Z" fill="#01665e"/>
<path d="M103,295 106,294 107.6,298 105.6,301.6 103,300Z" fill="#8c5829"/>
<path d="M150,319 155,315 161,312 166,308 170,304 170,328 162,329 155,326 151,323Z" fill="#8c5829"/>
<path d="M168,293 170,292 170,298 168.4,298Z" fill="#8c5829"/>
<path d="M174,280 179,277 186,278 193,280 198,283 197,287 190,289 183,288 176,289 173,285Z" fill="#f6e8c3"/>
<path d="M150,319 156,315 162,311 167,309 170,312 171,317 174,314 177,310 181,308 183,313 185,318 190,315 193,311 196.4,312 197.6,318 195,324 191,327 189,331 183,333 177,334 173,330 169,327 166,325 165,328 161,327 156,324 151,323Z" fill="#8c5829"/>
<path d="M166,319 170,317 173,320 175,326 171,328 168,325Z" fill="#d8b365"/>
<path d="M166,293 170,293.6 171.6,298 173.6,302 171,305 168.4,303 167.6,298Z" fill="#8c5829"/>
<path d="M191,291 193.6,291 193,294 191.2,293.6Z" fill="#8c5829"/>
<path d="M198,306 201,305 201.6,309 198.8,309.6Z" fill="#8c5829"/>
<path d="M245,296.4 248,295.6 251,297 250,300 246.4,300Z" fill="#01665e"/>
<path d="M411,294 418,290 420,292 420,306 415,304 411,300Z" fill="#f6e8c3"/>
<path d="M378,293 384,289 389,290 394,286 396,280 400,277 405,277 407,281 404,285 400,287 398,291 401,294 405,293 408,297 409,303 412,310 411,317 408,324 404,328 398,326 394,329 388,330 387,325 385,319 380,318 377,314 373,310 372,304 375,302 378,298Z" fill="#8c5829"/>
<path d="M393,264 397,261 402,259 407,259 409,263 413,265 411,268 406,267 403,271 399,269 395,268Z" fill="#8c5829"/>
<path d="M405,250 408,250 407.6,252 405.4,252Z" fill="#8c5829"/>
<path d="M335.5,326.9 340.6,323.4 341.8,329.2 346.4,332.6 350.9,331.5 353.2,336 354.4,340.6 359,342.9 362.4,346.4 363.6,350.9 368.1,353.2 373.9,352.1 377.3,349.8 379.6,353.2 380.7,357.8 379.6,363.6 376.2,365.8 371.6,367 368.1,368.1 365.8,371.6 364.7,376.2 365.8,380.7 320,380.7 320,340.6 324.6,340.1 329.2,337.2 332.6,332.6Z" fill="#f6e8c3"/>
<path d="M320,320 334.9,320 335.5,326.9 332.6,332.6 329.2,337.2 324.6,340.1 320,340.6Z" fill="#f5f7f6"/>
<path d="M337.8,348.7 342.9,347.5 346.9,349.2 348.7,352.7 353.2,355.5 357.8,356.7 356.7,360.1 353.2,362.4 350.9,364.7 349.8,369.3 347.5,371.6 344.1,370.4 341.8,368.1 342.9,364.7 345.2,361.3 342.9,357.8 339.5,354.4 337.2,351.5Z" fill="#d8b365"/>
<path d="M333.2,334.9 337.2,333.8 338.9,336.6 337.2,340.1 334.3,341.2 332.8,338.3Z" fill="#d8b365"/>
<path d="M344.1,336 347.5,334.9 349.2,337.2 347.5,339.5 344.6,338.9Z" fill="#d8b365"/>
<path d="M330.9,349.2 334.3,348.1 335.5,350.9 332.6,352.7Z" fill="#d8b365"/>
<path d="M322.3,352.1 324.6,350.9 325.5,353.8 323.2,355Z" fill="#d8b365"/>
<path d="M333.8,363 337.2,361.8 339.5,364.7 338.9,368.7 336,369.3 333.8,366.4Z" fill="#d8b365"/>
<path d="M322.3,370.4 326.9,369.3 331.5,371.6 332.6,376.2 329.2,377.3 324.6,376.2Z" fill="#d8b365"/>
<path d="M320,376.2 323.4,375 324.6,378.5 322.3,380.7 320,380.7Z" fill="#d8b365"/>
<path d="M320,359 322.3,360.1 324,364.7 322.3,368.1 320,367.6Z" fill="#d8b365"/>
<path d="M360.1,333.8 363,330.9 364.5,332 363,335.5 361,337.2Z" fill="#f6e8c3"/>
<path d="M355.5,330.3 357.2,330.1 357.4,331.5 355.8,331.7Z" fill="#8c5829"/>
<path d="M319,358 324,356 328,359 330,366 333,370 332,376 327,377 323,374 320,368 318.4,363Z" fill="#d8b365"/>
<path d="M338,348 346,347 350,350 356,356 358,360 354,362 350,366 347,370 343,370 342,364 339,358 337,352Z" fill="#d8b365"/>
<path d="M276,318 294,310 310,312 316,320 322,328 336,324 334,334 326,340 318,342 310,340 302,336 294,338 286,336 278,330Z" fill="#f5f7f6"/>
<path d="M308,316 313,314 317,319 316,328 313,333 310,330 309,322Z" fill="#f6e8c3"/>
<path d="M295,328 302,325.6 308,328 306,332 300,333.6 295,332.4Z" fill="#f6e8c3"/>
<path d="M432.4,371.6 434.4,369.2 438,369 440,371 438.4,374 434.4,374.4Z" fill="#fff"/>
</g>
<g fill="none" stroke="#0a0a0a" stroke-width="0.7" stroke-linejoin="round">
<path d="M86.2,70 85,72 84.2,74.5 84.8,76.5 86,75 86.8,73 87.5,71 M87,74.5 85.5,77.5 84.5,80 83.5,82.5 82.5,85 81.5,87 M85,78.5 86,81 85,83.5 84,86 82.8,88 M80,81.5 81.2,83.5 80,85.5 79,87 80.5,88.5 82,87 83,85 M78.2,85 79.5,86 78.5,87.5 M81.5,65.2 82.8,65.8 83.5,67.2 82.8,68.2 81.8,67.5 81.2,66.2 81.5,65.2 M67,89.5 68,90 67.2,91 M66.2,94 67.2,94.5 66.5,95.5 M65,98.5 66.8,99.5 69,99.8 71,100.5 73.5,102 75.5,104 76.5,106.5 76.8,108 M75.6,108 78,111.6 83,113 90,114.4 98,115.6 106,115 114,114.4 118,114 136,116.6 M142,71.6 139,94 136,116.6 M136,116.6 139,121 139.6,125 137,130 134,134 131.6,138 129.6,144 127.6,156 M150.8,73.4 151.6,83 154,91 157,100 M154,100 157,104 160,109 163,111 162.4,115 161,120 160,125 163,128 166,127 168,132 170,136 172.4,141 174.4,145 175,148 179,147 183,148 187,146.4 190,147 192,144.4 193.6,147 194.4,145 M270.6,84.8 269.4,131 M269.4,131 310,132 M269.4,131 268,145.6 267.4,156 M194.6,140.4 268,145.6 M194.6,140.4 193.6,156 M339,85.2 340,93 341.6,102 343,110 344.4,120 345.6,131 M310,132 345.6,131 M345.6,131 344,136 346,140 346.4,156 M390,117.6 389.6,128 387,131 385,135 385.6,142 389,148 394,154 396,156 M419.6,96.4 422,94 425,92 425.6,93 423,95.6 420,97.2 419.6,96.4 M410,119 420,122 430,125 M430,125 433,126 436,128 437.5,131.5 438.5,134.5 439.5,137 440,139 M414.4,181 441.6,178.4 M448,189.4 449,206 M457,186.4 477.4,185.6 496.4,185.6 M477.4,185.6 480,206 M587.6,110 590,120 591.6,130 593.6,138 596,145.6 M605,106 603,116 602.4,126 603.6,136 604.4,143.6 M609.6,100 614,114 618,126 621,132 622,132 M47.6,162.4 93,173.4 125,177.6 157.6,183.4 170,185.4 M125,177.6 128,156 M93,173.4 83.6,218 114,262 M157.6,183.4 147,259 146.6,262 M49.6,225 52,226 54,225 57,226.4 63,228 58,228.4 55,229 54,232 55.6,236 53,235 51.6,230 M193.6,156 188.6,202 M170,185.4 189.6,187 M188.6,202 210.6,204.6 265.6,208 287.6,209 M210.6,204.6 205,262 M268,156 265.6,208 M266.8,177 310,178 M287.6,209 288,224.4 287,262 M288,224.4 310,224.4 M310,178 326,177 334,179 340,180 345,181 348,182 M348,156 348,169.6 347,176 348,182 M348,169.6 403,166 M348,182 351,190 354,198 356,206 358,213 359,215 M359,215 403.6,211.6 405.6,215 M359,215 362.4,220 365,224 368,227 367,231 370,235 372,246 373,262 M310,224.4 365,224 M398,156 403,160 404,166 407,172 412,180 417,185 418,190 415,195 410,199 409.6,205 408,210 405.6,215 M477.4,185.6 483,226 M530,171 578,161.6 M530,171 531,167 M578,161.6 581,165 588,170 586,176 584.4,180 590,186 M510,230 512.4,229 510,233 506,230 502.4,228.4 498,231 493,230 489,226.4 483,226 M510,233 512,238 517,244 522,248 526,249 M578,161.6 584,168 588,170.4 598,175 M115,262 136,289 M136,289 138,295 139,302 135,308 132,315 131,320 132,324 129,325.6 M146.6,262 145.6,273 139,274 137,280 136,289 M66,294.4 69,293.6 73,294.4 74.4,295.6 71,296 67,295.6 66,294.4 M85,307 87,308.4 86.4,309.6 84.8,308 85,307 M82.4,313.6 84.4,316 84,317.2 82.6,315.2 82.4,313.6 M146.8,260 170,262.6 205,266.6 M205,266.6 275.6,271.4 310,271.4 M287,262 287,271.4 M205,266.6 198,355 M275.6,271.4 275.2,279.4 310,279.4 M275.2,279.4 272.4,348.6 M272.4,348.6 227.6,348 M310,271 373.6,270 M373.6,262 373.6,270 374.4,277.6 378,322 M374.4,277.6 427,274.4 428,277 425,281.6 432.4,281 M310,279.4 310.4,279.4 311,309.6 M311,309.6 316,312 322,314.4 329,316 334,318 340,320 346,321 352,320 358,321 364,319 370,318.4 374,321 378,322 M378,322 383,323 384.4,331 M384.4,331 419,329.6 M384.4,331 385.6,342 388,350 390,356 391,362 391.6,368 M432.4,281 431,288 428,297 425,302 422,308 419.6,314 418,320 419.6,326 419,329.6 421,336 423,341 420,346 419,352 418,357 417,360.4 M417,360.4 440,359 441,368 M428,297 450,294 M450,294 453.6,293.6 483.6,290.4 498,288 511,286 M498,288 501,283 508,278 514,273 519,268 524,264 526,262 M453.6,293.6 457,356 458,368 M483.6,290.4 495.6,333 497,337 495.6,342 499,354.4 M467,357 499,354.4 M467,357 469,362 468,366 M499,354.4 535,353 536,356 538,351 542,349.4 M511,286 516,295 524,304 532,312 539,320 543,324 545,327 M511,286 529,281 536,280 539.6,283 553.6,282 570,293 M390,368 389.6,376 390,382.4 M439,359 440,365 442,369 M418,190 412,197 409,202 410,208 405,213 406,220 410,226 416,231 419,235 423,238 424,244 427,248 431,251 433,258 435,264 437,267 435,272 433,277 432,281 433,284 431,289 429,296 M448,190 450,216 452,233 451,240 449,244 448,250 M437,267 438,262 443,260 445,256 448,250 452,249 457,249 460,248 463,245 467,243 469,245 472,244 474,239 477,235 481,233 483,230 483.6,226 M437,272 470,267 502,261.6 530,258 M530,258 560,252.6 590,246.5 593,246.5 M526,249 520,254 512,258 502,261.6 M588,170.4 585,175 584.4,180 589,184 M591.5,185 592,188 589.5,191 587,193.5 584.5,195 584,197.5 585,200 587,202.5 M582.5,197.5 587,215.5 593.5,214 M578.5,209 579.5,210.5 579,212.5 580,214.5 M574,206.5 575.5,207.2 M576.5,227.5 578,227 580,228 M577.5,230.5 579.5,232 581.2,233.5 M523,173 525.6,188 M525,190 526.5,196 528,203 529,208 M529,208 580,197.5 M580,197.3 582,196.8 583,195.5 584.5,195 M541,206 542,214 545,210 548,207 551,206 554,204 557,203.5 559.5,205 560.5,207.5 561.2,209.5 564,208.5 566,211 569,211.5 571,212.5 570,216 569,219 571,221 574,222 577,223 580,224.5 M580,223.5 577.5,222.5 575,221.5 572.5,221 570,220 M561.2,209.5 560.5,211.5 557,208.5 554.5,207.2 554.5,211.5 552,214.5 549.5,218 547.5,222 545,225 542.5,224 541,230 539,236 537,243 M537.4,242 532,246 526,249 M525,194 526,200 525,206 524,210 521,214 518.5,217 517,220 516,223 513,225 512,229 510,233 M570,217 574,220 578,222.4 581,225 579.6,227 M574,225 578,228 582,231 584.4,234 M577,237 581,239 585,241 589,243 591,246 M580,235.6 583,237 586,237.6 M581,252 585,253 589,252 592,254 M583,256 587,258 590,257 M585,263 588,266 586,270 590,269 M592,256 595,259 594,262 M582,246 586,247 589,249 M446.2,132.5 445.5,135 444.5,137.5 443.8,139.5 M448.8,126.2 449.8,127.2 449.2,128.4 M354.1,398.5 355.4,400.8 357.5,399.6 359.2,401.9 360,400.4 M354.6,402.5 356.9,403.7 356.1,405.4 M351.2,405.9 352.9,407.7 352,409.4 M345.5,412.8 347.2,414.5 348.9,413.4 348.1,415.7 346,416.3 M343.8,414.5 345.5,416.3 M340.1,420.8 342,422.2 343.8,421.1 342.8,423.1 340.9,422.9 M358.7,403.7 354.6,407.7 351.2,411.9 348.6,416.3 347,420.8 346,425.4 345.8,430 M596.8,144.3 604.3,142.5 617.1,139.3 621.8,135.4 M596.8,144.3 597.1,155 599.3,167.9 598.4,172.1 M597.1,155 615.7,151.1 619.6,150 621.1,151.4 621.4,154.3 621.8,156.1 M615.7,151.1 617.5,161.4 M628.6,157.1 630,156.4 631.8,157.5 630.7,158.7 628.9,158.6 628.6,157.1 M635.4,156.6 636.8,155.9 637.5,156.8 636.3,157.5 635.4,156.6 M620.7,153.9 621.8,155 622.5,156.6 623.2,157.5 M621.3,153.6 622.3,154.6 623,156.1 M535.6,392.4 538,394.4 536.8,397.6 539.2,399 M545.6,407 548,409 546.8,412 549.2,413.6 M563,429.6 565.6,428 568,430"/>
<path d="M100,323.6 99,320 97,314 94,308 90,304 87,301 83,297 77,291 71,288 65,286 63,281 64,275 61,268 58,262 58,262 55.6,257 54.4,252 56,248.4 55.2,245.6 52.4,241 51.6,235 51.2,229 50,226 48.4,224.4 49.6,223 47,220 44.4,213 43,206 43.6,199 41.6,193 40,187 41,182 45,175 47,168 47.6,162.4 47,156 47,156 51,144 55.6,130 60,116 62.6,108 63.8,103 64.5,99.5 65,98 65.5,96 66.2,94 67.5,91.5 67,89.5 68.5,88.5 67.2,87 66.8,84 66.2,80 65.8,76.5 65.2,73.5 64.8,70 65,67 65.5,65.2 66.8,65.5 69.5,68 72.5,70 75.5,71.5 78.5,72.2 80.5,73 82,74.5 83.5,75 83,76.8 81.8,78.5 80.5,80 79,82 77.8,84 78.5,85 77.5,86.5 77.5,88 79,89.5 81.2,89.5 83.5,88.5 85,87 85.8,84.5 86.2,82 86.8,79.5 87.8,77.5 88.8,76 88,73.5 87.2,71.5 86.8,70 87.8,68.5 88.2,66.5 87.8,64.5 86.2,62.5 86.8,60.5 114,66 142,71.6 150.8,73.4 170,77 194,79.2 220,81.6 246,83.4 270.6,84.8 310,85.6 339,85.2 358,84.4 358.6,79 361.6,79 363.6,87 368,89 374,87.6 379,87 383,91 388,94 394,93 400,95 406,96.4 411,95.6 415,95.6 410,99 404,104 398,110 393,115 390,117.6 398,115 403.6,113 403.6,113 407,116 410,119 412,116 418,113 423,111 427,107 430,103 434.4,101.6 433,105 430,109 434,110 438,112 442,115 448,114 453,112 459,109 463.6,108.4 465,111 469,113 471,112 473,115 478,117.6 480.4,117.6 479,119 474,119 469,119.6 464,121 460,120 456,121.6 453,123.6 450,126 448.5,127.5 446.5,129.5 444.5,131.5 443,134 441.5,136.5 440,139 438.5,141.5 437.2,144 437,145.8 438,146.2 439.2,144 440.5,141.5 442,139 443.5,137 445,134.5 446.2,132.5 447.2,131.5 446.8,134 445.5,137.5 444,141 443,145 442.2,150 441.8,155 441.5,163 442,168 443,176 445,184 448,189.4 452,189 457,186.4 459,178 458,170 456,162 454.4,154 454,147 456,140 459,135 461,133 461.6,137 463,137 463.6,132 465,127 468,124 473,125 479,127 483.6,129 485,133 485.6,139 484,144 482,149 481,152.4 484,155 485.6,153.6 488,149 491.6,146.4 495,148 497,153 499,160 499.6,167 498,171 495.6,176 494,182 496.4,185.6 500,186.4 504,185 509,182 514,178 520,174.4 525,171 531,167 536,161 535,156 534,150 538,148.4 546,147.6 554,146 559,144 563,139 562,135 559.6,132.4 561,130 564,125 568,119 573,115 582,113 587.6,110 605,106 606.4,102.4 609.6,100 611,97 612.4,90 613.6,82 614.4,74 616,68 618,63 620,65 624,64 628,61 632,62.4 634,64 635.6,70 637.6,77 639.6,83 644,85.6 646.4,89 649.6,91 652.4,94.4 650,98 646,100 643,103 640,104 637,106 635,104 634,110 631,114 629,119 626,121 625,125 623.6,129 622,132 622.4,135 622.1,135 624.3,137.9 625,139.3 622.9,140.7 622.5,143.6 624.6,144.6 627.1,147.1 629.3,150 630,151.4 632.9,150.7 635.7,149.6 636.8,148.2 635.4,146.4 633.6,145.4 632.1,145.6 633.2,147 634.9,148 635.9,149.4 636.8,150.4 634.3,152.1 632.1,152.9 630,153.9 628.6,153 627.1,154.6 624.3,156.4 622.9,157.9 622.1,155 621.4,154.6 621.8,157.1 621.4,158.6 620,160.4 617.5,161.4 614.3,162.9 610.7,164.3 607.9,165.7 605,167.9 601,171 599,174.4 606,172.4 614,167.6 619,164.4 619.6,165.6 616,168.8 608,174 600,178 597,177.6 596,179 599,182 599,185 599.5,189 599,193.5 597.5,198 595.5,202.5 594.5,206 593.5,205.5 592.5,203.5 589.5,203 587,202.5 588.5,205 590.5,207.5 592.5,210.5 593.5,214 594.5,215 594,219 592.5,223 591,227 589.5,232 588.5,236 587.8,233 588.5,229 589.5,225 588,223.5 587,221 585.5,219 584,218.5 582,219 580.5,217.5 581,215 582,212.5 581.2,209.5 581.8,206.5 581.2,203.5 580.5,201 579,200.5 577.8,203 577.2,206 577.8,209 577.5,212 578.2,215 579,218 580.5,220 581.5,223 581.2,225 580.5,227 576.5,227.5 579,229.5 581,231 582.5,233 584,234.5 583,236 580,235 579,237 582,238 583,238 585,241 590,242 592,247 595,252 598,258 600,262 590.4,247 595,251 599,256 600.4,262 599,266 596,269 593,272 591,277 587,278 582,281 578,285 575,290 570,293 567,297 565,302 563,307 560,310 556,314 552,318 548,323 554,316 550,320 547,323 545,327 544,334 543.6,342 542.4,349.4 544,356 547,362 549,368 551,368 554,372 558,378 562,385 566,392 570,399 573,406 574.4,414 575,422 573.6,429 572,433 568,432.4 564,432 562,429 558,425 553,421 549,415 547.6,411 545.6,410.4 544,409 540,404 537,399 538,396 536.4,394 534,392 535,386 533,380 529,375 524,371 519,368 518,366 513,364 509,366 504,370 500,372 497,371 494,367 491,365 486,362.4 480,363 473,363 469,365 466,367 465,362 463,360 461.6,363 462,367.6 458,367 453,366 447,367 443,369 445.6,373 443,376.4 444.4,379.6 448,382.4 452.4,385.2 451.6,388 448.4,388.8 447.2,386.4 443.2,386 440,383.6 438.4,382.4 436,385 432,387 426,388 422,386 416,384 413,381 408,382.4 400,382 398,382 410,383.6 404.5,382.4 398.8,381.6 394.2,382.1 390.2,383.3 389.6,379.6 388.5,379 387.9,381.9 388.7,383.9 386.2,385.3 382.7,387 379.3,388.8 378.7,388.2 378.1,386.5 378.7,384.2 377.6,382.4 376.4,383.6 374.7,382.4 374.1,384.2 375.8,387 377.6,389.3 375.8,391.6 372.4,395.1 369,397.3 364.4,399.6 360.4,401.9 356.9,404.8 353.5,408.2 350.6,411.7 348.3,415.1 346.6,419.1 345.5,423.1 344.9,427.7 345.5,432.3 345.6,428 347,436 347.6,443 345,444.4 340,442 334,440 328,438 323,435 320,430 318,424 316,419 313,415 310,410 308,408 306,403 303,396 298,390 292,385 286,383 279,384 275,387 273,392 270,396 266,393 260,389 254,384 251,379 249,373 245,368 245,367 238,361 232,355 227.6,348 208.4,349.4 208,355.6 198,355 170,352 170,350 128,328.4 129,325.6 100,323.6Z" stroke-width="0.8"/>
<path d="M432.4,371.6 434.4,369.2 438,369 440,371 438.4,374 434.4,374.4Z"/>
</g>
<g text-anchor="middle">
<text x="341.3" y="27.6" font-size="23.2" textLength="304.6" lengthAdjust="spacingAndGlyphs">Total Precipitation Percentiles</text>
<text x="341.2" y="47.5" font-size="16.8" textLength="216.2" lengthAdjust="spacingAndGlyphs">September–November 2017</text>
<text x="341.3" y="64" font-size="13.5" textLength="157.4" lengthAdjust="spacingAndGlyphs">Ranking Period: 1895–2017</text>
</g>
<text x="2" y="529.7" font-size="12.8" textLength="140" lengthAdjust="spacingAndGlyphs">Created: Mon Dec 04 2017</text>
<text x="452" y="529.7" font-size="12.8" textLength="245.5" lengthAdjust="spacingAndGlyphs">Data Source: 5km Gridded Dataset (nClimGrid)</text>
<g font-size="10.6" text-anchor="middle" stroke="#111" stroke-width="0.18">
<rect x="115" y="458" width="49" height="15.5" fill="#8c5829" stroke="#000" stroke-width="1.15"/>
<text x="140.3" y="486.8" textLength="31.2" lengthAdjust="spacingAndGlyphs">Record</text>
<text x="140.3" y="498.8" textLength="25.8" lengthAdjust="spacingAndGlyphs">Driest</text>
<rect x="180" y="458" width="49" height="15.5" fill="#d8b365" stroke="#000" stroke-width="1.15"/>
<text x="205.3" y="486.8" textLength="25" lengthAdjust="spacingAndGlyphs">Much</text>
<text x="205.3" y="498.8" textLength="27" lengthAdjust="spacingAndGlyphs">Below</text>
<text x="205.3" y="510.8" textLength="36.8" lengthAdjust="spacingAndGlyphs">Average</text>
<rect x="245" y="458" width="49" height="15.5" fill="#f6e8c3" stroke="#000" stroke-width="1.15"/>
<text x="270.3" y="486.8" textLength="27" lengthAdjust="spacingAndGlyphs">Below</text>
<text x="270.3" y="498.8" textLength="36.8" lengthAdjust="spacingAndGlyphs">Average</text>
<rect x="310" y="458" width="49" height="15.5" fill="#f5f7f6" stroke="#000" stroke-width="1.15"/>
<text x="335.3" y="486.8" textLength="21.5" lengthAdjust="spacingAndGlyphs">Near</text>
<text x="335.3" y="498.8" textLength="36.8" lengthAdjust="spacingAndGlyphs">Average</text>
<rect x="375" y="458" width="49" height="15.5" fill="#c7eae5" stroke="#000" stroke-width="1.15"/>
<text x="400.3" y="486.8" textLength="28.5" lengthAdjust="spacingAndGlyphs">Above</text>
<text x="400.3" y="498.8" textLength="36.8" lengthAdjust="spacingAndGlyphs">Average</text>
<rect x="440" y="458" width="49" height="15.5" fill="#5ab4ac" stroke="#000" stroke-width="1.15"/>
<text x="465.3" y="486.8" textLength="25" lengthAdjust="spacingAndGlyphs">Much</text>
<text x="465.3" y="498.8" textLength="28.5" lengthAdjust="spacingAndGlyphs">Above</text>
<text x="465.3" y="510.8" textLength="36.8" lengthAdjust="spacingAndGlyphs">Average</text>
<rect x="505" y="458" width="49" height="15.5" fill="#01665e" stroke="#000" stroke-width="1.15"/>
<text x="530.3" y="486.8" textLength="31.2" lengthAdjust="spacingAndGlyphs">Record</text>
<text x="530.3" y="498.8" textLength="35.5" lengthAdjust="spacingAndGlyphs">Wettest</text>
</g>
<g>
<circle cx="632.3" cy="322.5" r="25.6" fill="#1c9dd9"/>
<g clip-path="url(#lc)">
<path d="M600,290 L665,290 L665,311 L657,313.3 C652,318 646,325 640,328 L643.7,328 L636,330 C632,331.5 628,333 624.5,332.6 L629,329.8 C623,328.5 617,323.5 611.6,318 L607,315.5 L600,314 Z" fill="#fff"/>
<path d="M600,290 L665,290 L665,300 L652.4,307.4 C648,310 645,316 641.5,320.5 C638.5,324 635,327.3 632,327.3 C628,327.3 624,322.5 621,318.5 C618,314 615,309.5 611.8,307.2 L600,300 Z" fill="#0d4a9e"/>
</g>
<text x="631.8" y="313.7" font-size="8.6" font-weight="bold" text-anchor="middle" textLength="21" lengthAdjust="spacingAndGlyphs" style="fill:#fff">NOAA</text>
</g>
<g font-size="10.8" text-anchor="middle" stroke="#111" stroke-width="0.18">
<text x="632" y="361.8" textLength="96" lengthAdjust="spacingAndGlyphs">National Centers for</text>
<text x="630.8" y="374.6" textLength="70.3" lengthAdjust="spacingAndGlyphs">Environmental</text>
<text x="632" y="387.2" textLength="56.4" lengthAdjust="spacingAndGlyphs">Information</text>
</g>
</svg></body></html>
